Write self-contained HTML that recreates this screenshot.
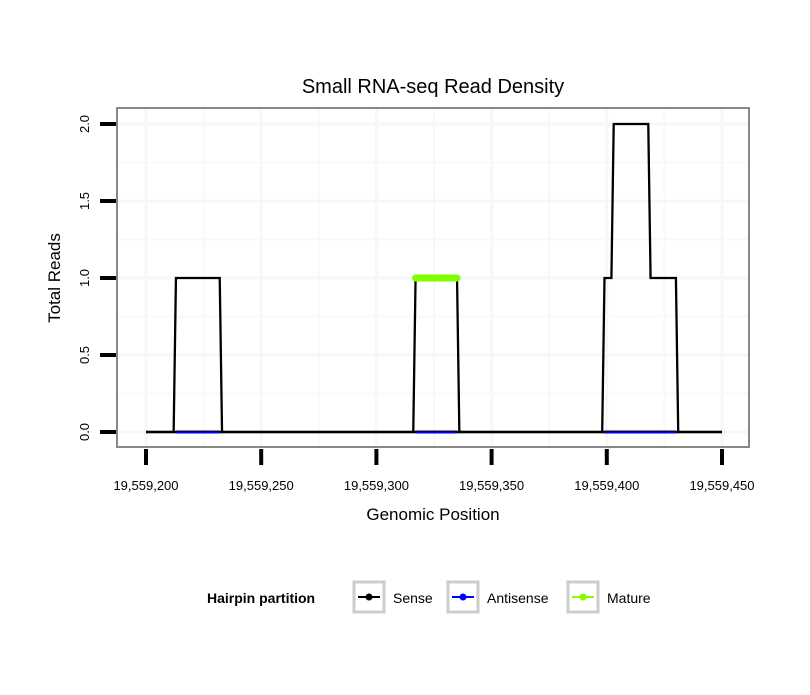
<!DOCTYPE html>
<html><head><meta charset="utf-8"><style>
body{margin:0;background:#fff;}
svg text{font-family:"Liberation Sans",sans-serif;}
</style></head><body>
<svg id="c" width="810" height="690" xmlns="http://www.w3.org/2000/svg">
<rect width="810" height="690" fill="#fff"/>
<text x="433" y="93" font-size="20" text-anchor="middle">Small RNA-seq Read Density</text>
<g id="grid"></g>
<g id="series"></g>
<rect x="117" y="108" width="632" height="339" fill="none" stroke="#888" stroke-width="2"/>
<g id="axes"></g>
<text x="433" y="520" font-size="17" text-anchor="middle">Genomic Position</text>
<text transform="translate(60,278) rotate(-90)" font-size="17" text-anchor="middle">Total Reads</text>
<g>
<text x="207" y="603" font-size="14" font-weight="bold">Hairpin partition</text>
<g>
<rect x="354" y="582" width="30" height="30" fill="#fff" stroke="#ccc" stroke-width="3"/>
<line x1="358" y1="597" x2="380" y2="597" stroke="#000" stroke-width="2"/><circle cx="369" cy="597" r="3.5" fill="#000"/>
<text x="393" y="603" font-size="14">Sense</text></g>
<g>
<rect x="448" y="582" width="30" height="30" fill="#fff" stroke="#ccc" stroke-width="3"/>
<line x1="452" y1="597" x2="474" y2="597" stroke="#00f" stroke-width="2"/><circle cx="463" cy="597" r="3.5" fill="#00f"/>
<text x="487" y="603" font-size="14">Antisense</text></g>
<g>
<rect x="568" y="582" width="30" height="30" fill="#fff" stroke="#ccc" stroke-width="3"/>
<line x1="572" y1="597" x2="594" y2="597" stroke="#7fff00" stroke-width="2"/><circle cx="583" cy="597" r="3.5" fill="#7fff00"/>
<text x="607" y="603" font-size="14">Mature</text></g>
</g>
</svg>
<script>
const senseX=[200,212,213,232,233,316,317,335,336,398,399,402,403,418,419,430,431,450];
const senseY=[0,0,1,1,0,0,1,1,0,0,1,1,2,2,1,1,0,0];
const antisenseSegs=[[213,232],[317,335],[399,430]];
const matureX=[317,335];
const matureY=[1,1];
const xTicks=[19559200,19559250,19559300,19559350,19559400,19559450];
const xTickLabels=["19,559,200","19,559,250","19,559,300","19,559,350","19,559,400","19,559,450"];
const yTicks=[0,0.5,1,1.5,2];
const yTickLabels=["0.0","0.5","1.0","1.5","2.0"];
const base=19559000;
const xs=v=>146+(v-200)*2.304;
const ys=v=>432-v*154;
const NS="http://www.w3.org/2000/svg";
function mk(p,tag,a){const e=document.createElementNS(NS,tag);for(const k in a)e.setAttribute(k,a[k]);p.appendChild(e);return e;}
const grid=document.getElementById('grid'),ser=document.getElementById('series'),ax=document.getElementById('axes');
for(let i=0;i<xTicks.length;i++){
 const v=xTicks[i]-base;
 const g=mk(grid,'line',{x1:xs(v),x2:xs(v),y1:108,y2:447,stroke:'#f7f7f7','stroke-width':3});
 
 
 if(i<xTicks.length-1){const m=mk(grid,'line',{x1:xs(v+25),x2:xs(v+25),y1:108,y2:447,stroke:'#f8f8f8','stroke-width':2});
 
 }
 const t=mk(ax,'line',{x1:xs(v),x2:xs(v),y1:449,y2:465,stroke:'#000','stroke-width':4});
 
 
 const l=mk(ax,'text',{x:xs(v),y:490,'font-size':13,'text-anchor':'middle'});l.textContent=xTickLabels[i];
 
 
}
for(let i=0;i<yTicks.length;i++){
 const v=yTicks[i];
 const g=mk(grid,'line',{x1:117,x2:749,y1:ys(v),y2:ys(v),stroke:'#f7f7f7','stroke-width':3});
 
 
 if(i<yTicks.length-1){const m=mk(grid,'line',{x1:117,x2:749,y1:ys(v+0.25),y2:ys(v+0.25),stroke:'#f8f8f8','stroke-width':2});
 
 }
 const t=mk(ax,'line',{x1:100,x2:116,y1:ys(v),y2:ys(v),stroke:'#000','stroke-width':4});
 
 
 const l=mk(ax,'text',{transform:`translate(89,${ys(v)}) rotate(-90)`,'font-size':13,'text-anchor':'middle'});l.textContent=yTickLabels[i];
 
 
}
for(const s of antisenseSegs){
 const l=mk(ser,'line',{x1:xs(s[0]),x2:xs(s[1]),y1:ys(0),y2:ys(0),stroke:'#00f','stroke-width':3});
 
 
}
const sp=mk(ser,'polyline',{points:senseX.map((x,i)=>xs(x)+','+ys(senseY[i])).join(' '),fill:'none',stroke:'#000','stroke-width':2.3});


const base0=mk(ser,'line',{x1:xs(senseX[0]),x2:xs(senseX[senseX.length-1]),y1:ys(0),y2:ys(0),stroke:'#000','stroke-width':2.5});


for(const s of antisenseSegs){
 const l=mk(ser,'line',{x1:xs(s[0]),x2:xs(s[1]),y1:ys(0)+0.5,y2:ys(0)+0.5,stroke:'#00f','stroke-width':1.5});
 
 
}
const mp=mk(ser,'polyline',{points:matureX.map((x,i)=>xs(x)+','+ys(matureY[i])).join(' '),fill:'none',stroke:'#7fff00','stroke-width':7,'stroke-linecap':'round'});


</script>
</body></html>
